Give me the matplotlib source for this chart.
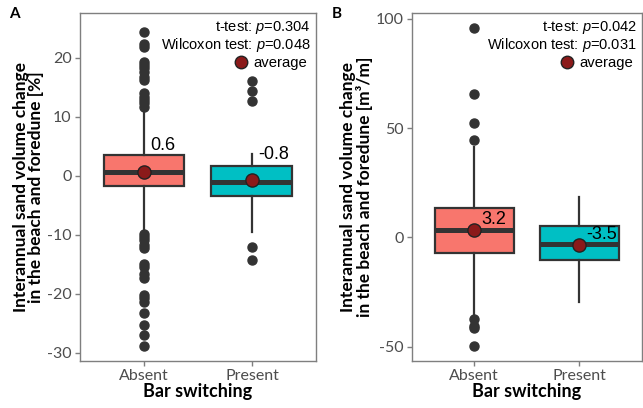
import matplotlib
matplotlib.use("Agg")
import matplotlib.pyplot as plt
from matplotlib.lines import Line2D

plt.rcParams['mathtext.fontset'] = 'custom'
plt.rcParams['mathtext.rm'] = 'Liberation Sans'
plt.rcParams['mathtext.it'] = 'Liberation Sans:italic'
plt.rcParams['axes.unicode_minus'] = False

categories = ["Absent", "Present"]
box_colors = ["#F8766D", "#00BFC4"]

# panel A: relative change [%]
a_q1 = [-1.7, -3.45]
a_med = [0.7, -1.1]
a_q3 = [3.45, 1.7]
a_wlo = [-9.4, -9.6]
a_whi = [11.0, 3.7]
a_mean = [0.6, -0.8]
a_fliers = [
    [24.3, 22.4, 21.9, 19.3, 18.8, 18.2, 17.6, 16.8, 16.2, 14.0, 13.4, 12.8, 12.3, 11.7,
     -9.8, -10.3, -10.9, -11.8, -12.3, -14.9, -15.4, -16.6, -17.4, -20.2, -20.8, -21.4,
     -23.3, -25.3, -27.0, -28.9],
    [16.0, 14.4, 12.7, -12.1, -14.2],
]
a_tests = ["0.304", "0.048"]

# panel B: volume change [m3/m]
b_q1 = [-6.9, -10.2]
b_med = [3.3, -2.9]
b_q3 = [13.4, 5.2]
b_wlo = [-35.0, -29.5]
b_whi = [41.4, 18.3]
b_mean = [3.2, -3.5]
b_fliers = [
    [95.6, 65.5, 52.1, 44.5, -37.5, -40.5, -41.6, -49.6],
    [],
]
b_tests = ["0.042", "0.031"]

fig = plt.figure(figsize=(6.43, 4.08), dpi=100)
axA = fig.add_axes([0.1244, 0.1152, 0.367, 0.853])
axB = fig.add_axes([0.6403, 0.1152, 0.358, 0.853])

ylabel_base = "Interannual sand volume change\nin the beach and foredune "


def draw_panel(ax, q1, med, q3, wlo, whi, mean, fliers, tests, ylim, yticks,
               unit, lab_dx, lab_dy):
    stats = []
    for i in range(len(categories)):
        stats.append(dict(q1=q1[i], med=med[i], q3=q3[i], whislo=wlo[i],
                          whishi=whi[i], fliers=fliers[i], label=categories[i]))
    bp = ax.bxp(stats, positions=[1, 2], widths=0.75, patch_artist=True,
                boxprops=dict(edgecolor="#333333", linewidth=1.6),
                medianprops=dict(color="#333333", linewidth=3.6, solid_capstyle="butt"),
                whiskerprops=dict(color="#333333", linewidth=1.6),
                capprops=dict(linewidth=0),
                flierprops=dict(marker="o", markerfacecolor="#333333",
                                markeredgecolor="#333333", markersize=6.5))
    for patch, c in zip(bp["boxes"], box_colors):
        patch.set_facecolor(c)
    ax.plot([1, 2], mean, "o", color="#8B1A1A", markeredgecolor="#222222",
            markeredgewidth=1.0, markersize=9.5, linestyle="none", zorder=5)
    for x, m in zip([1, 2], mean):
        ax.annotate(f"{m:.1f}", (x, m), xytext=(lab_dx, lab_dy),
                    textcoords="offset points", ha="left", va="center",
                    fontsize=13, family="Liberation Sans", color="black", zorder=6)
    ax.set_xlim(0.407, 2.593)
    ax.set_ylim(*ylim)
    ax.set_yticks(yticks)
    ax.set_xticks([1, 2])
    ax.set_xticklabels(categories)
    for s in ax.spines.values():
        s.set_color("#7F7F7F")
        s.set_linewidth(1.0)
    ax.tick_params(colors="#7F7F7F", labelcolor="#4D4D4D", length=3.5, width=1.0,
                   labelsize=11.5, pad=2.5)
    for t in ax.get_xticklabels() + ax.get_yticklabels():
        t.set_family("Lato")
    ax.set_xlabel("Bar switching", fontsize=13, fontweight="bold", family="Lato",
                  labelpad=0)
    ax.set_ylabel(ylabel_base + unit, fontsize=12.5, fontweight="bold", family="Lato",
                  labelpad=2, linespacing=0.95)
    ax.text(0.979, 0.957, f"t-test: $p$=" + tests[0], transform=ax.transAxes,
            ha="right", va="center", fontsize=10.5, family="Liberation Sans")
    ax.text(0.979, 0.907, f"Wilcoxon test: $p$=" + tests[1], transform=ax.transAxes,
            ha="right", va="center", fontsize=10.5, family="Liberation Sans")
    h = Line2D([], [], marker="o", linestyle="none", color="#8B1A1A",
               markeredgecolor="#222222", markersize=9)
    ax.legend([h], ["average"], loc="center right",
              bbox_to_anchor=(1.0, 0.856), frameon=False,
              handletextpad=0.05, borderaxespad=0.2, handlelength=1.5,
              prop=dict(family="Liberation Sans", size=10.7))


draw_panel(axA, a_q1, a_med, a_q3, a_wlo, a_whi, a_mean, a_fliers, a_tests,
           (-31.4, 27.6), [-30, -20, -10, 0, 10, 20], "[%]", 4.5, 19)
draw_panel(axB, b_q1, b_med, b_q3, b_wlo, b_whi, b_mean, b_fliers, b_tests,
           (-56.5, 102.6), [-50, 0, 50, 100], "[m³/m]", 5, 7.5)

fig.text(14 / 643, 1 - 14 / 408, "A", fontsize=11, fontweight="bold",
         family="Lato", ha="center", va="center")
fig.text(337 / 643, 1 - 14 / 408, "B", fontsize=11, fontweight="bold",
         family="Lato", ha="center", va="center")

fig.savefig("out.png", dpi=100)
